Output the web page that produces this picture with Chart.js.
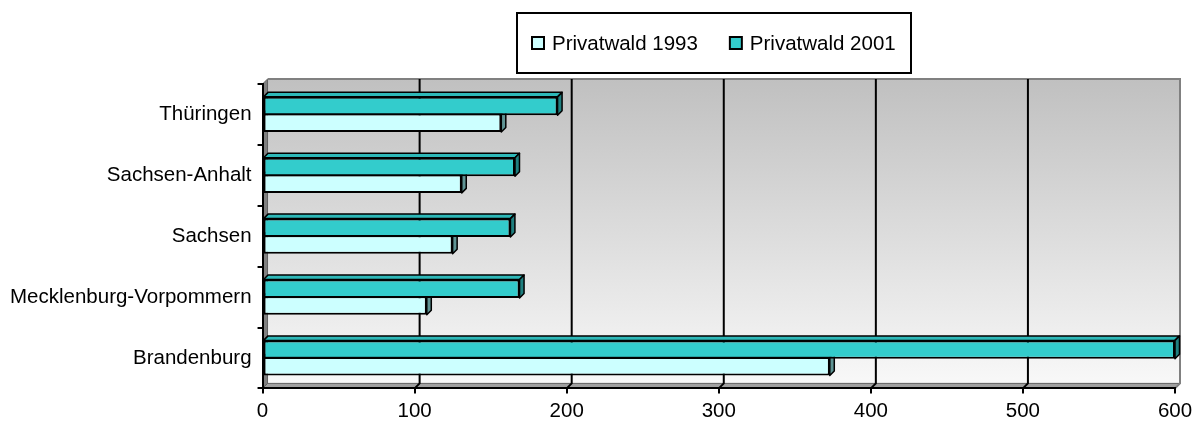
<!DOCTYPE html>
<html lang="de">
<head>
<meta charset="UTF-8">
<title>Privatwald 1993 und 2001</title>
<script src="https://cdn.jsdelivr.net/npm/chart.js"></script>
<style>
    html, body { margin: 0; padding: 0; background: #fff; }
    #wrap { width: 1202px; height: 423px; }
</style>
</head>
<body>
<div id="wrap"><canvas id="privatwaldChart" width="1202" height="423"></canvas></div>
<script>
// Privatwald je Land, von unten nach oben
const laender = ["Brandenburg", "Mecklenburg-Vorpommern", "Sachsen", "Sachsen-Anhalt", "Thüringen"];
const privatwald1993 = [373, 108, 125, 131, 157];
const privatwald2001 = [600, 169, 163, 166, 194];
const achseMax = 600;
const achseSchritt = 100;

const TIEFE = 5;          // Tiefe von Rückwand/Boden
const BALKEN_TIEFE = 4.5; // Tiefe der Balken
const schrift = "'Liberation Sans', Arial, sans-serif";
const schriftGroesse = 20.5;

function polygon(ctx, punkte) {
    ctx.beginPath();
    punkte.forEach(([px, py], i) => i ? ctx.lineTo(px, py) : ctx.moveTo(px, py));
    ctx.closePath();
    ctx.fill();
    ctx.stroke();
}

// Rückwand, Seitenwand, Boden und Gitterlinien
const waende = {
    id: 'waende',
    beforeDraw(chart) {
        const { ctx, chartArea: { left, right, top, bottom }, scales: { x } } = chart;
        const d = TIEFE;
        ctx.save();
        const verlauf = ctx.createLinearGradient(0, top - d, 0, bottom - d);
        verlauf.addColorStop(0, '#c0c0c0');
        verlauf.addColorStop(1, '#f8f8f8');
        ctx.fillStyle = verlauf;
        ctx.fillRect(left + d, top - d, right - left, bottom - top);

        ctx.lineWidth = 1;
        ctx.strokeStyle = '#606060';
        ctx.fillStyle = '#808080';
        polygon(ctx, [[left, top], [left + d, top - d], [left + d, bottom - d], [left, bottom]]);
        ctx.fillStyle = '#a0a0a0';
        polygon(ctx, [[left, bottom], [left + d, bottom - d], [right + d, bottom - d], [right, bottom]]);

        ctx.strokeStyle = '#808080';
        ctx.lineWidth = 2;
        ctx.beginPath();
        ctx.moveTo(left + d, top - d);
        ctx.lineTo(right + d, top - d);
        ctx.lineTo(right + d, bottom - d);
        ctx.lineTo(right, bottom);
        ctx.stroke();

        ctx.strokeStyle = '#000';
        x.ticks.forEach(t => {
            if (t.value <= 0 || t.value >= achseMax) return;
            const px = x.getPixelForValue(t.value);
            ctx.beginPath();
            ctx.moveTo(px + d, top - d);
            ctx.lineTo(px + d, bottom - d);
            ctx.lineTo(px, bottom);
            ctx.stroke();
        });
        ctx.restore();
    }
};

// Deck- und Seitenflächen der Balken
const balken3d = {
    id: 'balken3d',
    beforeDatasetsDraw(chart) {
        const { ctx } = chart;
        const d = BALKEN_TIEFE;
        ctx.save();
        ctx.lineWidth = 1.5;
        ctx.strokeStyle = '#000';
        ctx.lineJoin = 'round';
        chart.data.datasets.forEach((ds, i) => {
            chart.getDatasetMeta(i).data.forEach(bar => {
                const { x, y, base, height } = bar.getProps(['x', 'y', 'base', 'height'], true);
                const oben = y - height / 2, unten = y + height / 2;
                ctx.fillStyle = ds.deckFarbe;
                polygon(ctx, [[base, oben], [base + d, oben - d], [x + d, oben - d], [x, oben]]);
                ctx.fillStyle = ds.seitenFarbe;
                polygon(ctx, [[x, oben], [x + d, oben - d], [x + d, unten - d], [x, unten]]);
            });
        });
        ctx.restore();
    }
};

// Legende mit Rahmen über dem Diagramm
const legende = {
    id: 'legende',
    afterDraw(chart) {
        const { ctx } = chart;
        const eintraege = [...chart.data.datasets].reverse();
        const kasten = 12, abstand = 8, luecke = 32, rand = 15;
        const mitteX = 714, mitteY = 43, hoehe = 60;
        ctx.save();
        ctx.font = `${schriftGroesse}px ${schrift}`;
        const breiten = eintraege.map(ds => ctx.measureText(ds.label).width);
        const inhalt = breiten.reduce((s, w) => s + kasten + abstand + w, 0) + luecke * (eintraege.length - 1);
        const x0 = Math.round(mitteX - inhalt / 2 - rand);
        const breite = Math.round(inhalt + 2 * rand);
        ctx.fillStyle = '#fff';
        ctx.fillRect(x0, mitteY - hoehe / 2, breite, hoehe);
        ctx.lineWidth = 2;
        ctx.strokeStyle = '#000';
        ctx.strokeRect(x0, mitteY - hoehe / 2, breite, hoehe);

        let cx = x0 + rand;
        ctx.textBaseline = 'middle';
        eintraege.forEach((ds, i) => {
            ctx.fillStyle = ds.backgroundColor;
            ctx.fillRect(cx, mitteY - kasten / 2, kasten, kasten);
            ctx.strokeRect(cx, mitteY - kasten / 2, kasten, kasten);
            ctx.fillStyle = '#000';
            ctx.fillText(ds.label, cx + kasten + abstand, mitteY + 1);
            cx += kasten + abstand + breiten[i] + luecke;
        });
        ctx.restore();
    }
};

const tickFont = { family: schrift, size: schriftGroesse };

new Chart(document.getElementById('privatwaldChart'), {
    type: 'bar',
    data: {
        labels: laender,
        datasets: [
            {
                label: 'Privatwald 2001',
                data: privatwald2001,
                backgroundColor: '#33cccc',
                deckFarbe: '#2eb8b8',
                seitenFarbe: '#1f7f7f'
            },
            {
                label: 'Privatwald 1993',
                data: privatwald1993,
                backgroundColor: '#ccffff',
                deckFarbe: '#a9dada',
                seitenFarbe: '#5f9494'
            }
        ]
    },
    options: {
        indexAxis: 'y',
        responsive: false,
        animation: false,
        layout: { padding: { top: 84, right: 27, bottom: -7, left: 4 } },
        datasets: {
            bar: {
                borderColor: '#000',
                borderWidth: 2,
                borderSkipped: false,
                categoryPercentage: 0.55,
                barPercentage: 1.1
            }
        },
        scales: {
            x: {
                min: 0,
                max: achseMax,
                ticks: { stepSize: achseSchritt, color: '#000', font: tickFont, padding: 6 },
                grid: { drawOnChartArea: false, color: '#000', lineWidth: 2, tickLength: 5 },
                border: { color: '#000', width: 2 }
            },
            y: {
                reverse: true,
                ticks: { color: '#000', font: tickFont, padding: 6 },
                grid: { drawOnChartArea: false, color: '#000', lineWidth: 2, tickLength: 5 },
                border: { color: '#000', width: 2 }
            }
        },
        plugins: {
            legend: { display: false },
            tooltip: { enabled: false }
        }
    },
    plugins: [waende, balken3d, legende]
});
</script>
</body>
</html>
